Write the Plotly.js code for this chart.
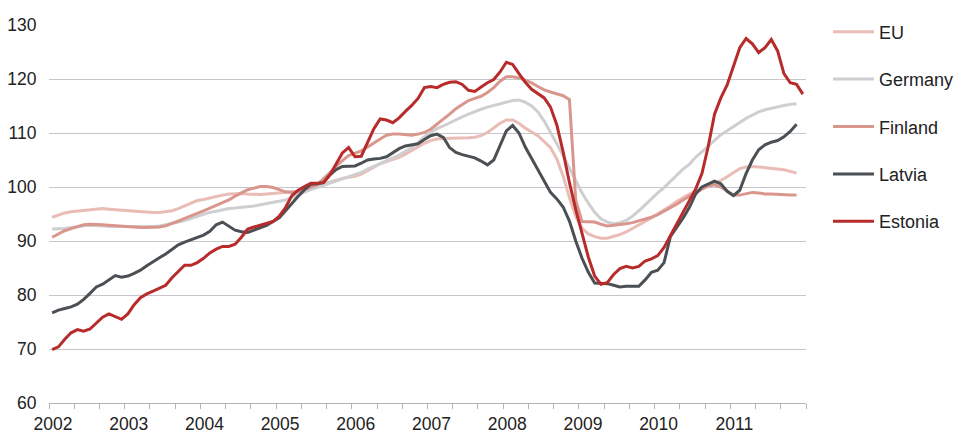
<!DOCTYPE html>
<html>
<head>
<meta charset="utf-8">
<script src="https://cdn.plot.ly/plotly-3.0.1.min.js"></script>
<style>html,body{margin:0;padding:0;background:#fff;}#chart{width:955px;height:435px;}</style>
</head>
<body>
<div id="chart"></div>
<script>
// Monthly index values, Jan 2002 - Dec 2011
const years = [2002, 2003, 2004, 2005, 2006, 2007, 2008, 2009, 2010, 2011];
const yearLabels = ["2002", "2003", "2004", "2005", "2006", "2007", "2008", "2009", "2010", "2011"];
const seriesNames = ["EU", "Germany", "Finland", "Latvia", "Estonia"];

const eu = [94.4,94.8,95.2,95.4,95.5,95.6,95.8,95.9,96.0,95.9,95.8,95.7,
95.6,95.5,95.5,95.4,95.3,95.3,95.4,95.6,96.0,96.5,97.0,97.5,
97.7,98.0,98.3,98.5,98.7,98.8,98.8,98.7,98.6,98.6,98.7,98.8,
98.9,99.0,99.0,99.2,99.5,99.9,100.3,100.6,100.9,101.3,101.6,101.8,
102.0,102.4,103.0,103.6,104.3,104.7,105.1,105.5,106.1,106.8,107.5,108.1,
108.6,108.9,109.0,109.0,109.0,109.0,109.1,109.2,109.5,110.1,110.9,111.8,
112.4,112.4,111.8,110.9,110.2,109.5,108.4,107.3,105.2,102.0,98.0,94.5,
92.4,91.3,90.8,90.5,90.5,90.8,91.2,91.7,92.3,92.9,93.6,94.3,
95.0,95.7,96.5,97.3,98.0,98.7,99.2,99.7,100.1,100.6,101.2,101.9,
102.7,103.4,103.7,103.8,103.7,103.6,103.5,103.4,103.2,102.9,102.6,null];

const germany = [92.2,92.2,92.3,92.5,92.7,92.8,92.9,92.9,92.8,92.7,92.7,92.6,
92.6,92.6,92.6,92.6,92.7,92.8,93.0,93.2,93.5,93.8,94.2,94.6,
95.0,95.3,95.5,95.8,96.0,96.1,96.2,96.4,96.5,96.7,96.9,97.1,
97.3,97.6,98.1,98.6,99.1,99.5,99.9,100.3,100.7,101.2,101.6,102.0,
102.3,102.7,103.3,103.8,104.4,104.8,105.3,105.9,106.6,107.3,108.2,109.3,
110.1,110.8,111.3,111.9,112.5,113.0,113.5,114.0,114.4,114.8,115.1,115.4,
115.7,116.0,116.1,115.7,115.0,113.9,112.2,110.2,108.0,105.8,103.5,101.1,
98.9,97.0,95.3,94.1,93.5,93.2,93.4,93.8,94.6,95.6,96.7,97.9,
98.9,99.9,101.0,102.1,103.3,104.2,105.5,106.5,107.6,108.7,109.7,110.4,
111.2,112.0,112.7,113.3,113.9,114.3,114.6,114.9,115.1,115.3,115.4,null];

const finland = [90.7,91.3,91.9,92.3,92.7,93.0,93.1,93.1,93.0,92.9,92.8,92.8,
92.6,92.5,92.5,92.5,92.5,92.6,92.8,93.2,93.7,94.2,94.6,95.1,
95.6,96.1,96.5,97.0,97.6,98.3,98.9,99.5,99.8,100.1,100.1,99.9,
99.5,99.1,99.0,99.2,99.5,100.0,100.4,101.5,102.6,103.7,104.9,105.8,
106.3,106.7,107.4,108.2,108.9,109.6,109.8,109.8,109.7,109.6,109.8,110.1,
110.7,111.6,112.6,113.5,114.5,115.3,116.0,116.4,116.8,117.5,118.4,119.6,
120.4,120.4,120.2,119.8,119.3,118.6,118.0,117.6,117.3,116.9,116.2,97.5,
93.6,93.6,93.5,93.1,92.8,92.9,93.0,93.2,93.4,93.7,94.0,94.4,
94.9,95.5,96.1,96.8,97.6,98.3,98.9,99.6,100.2,100.4,100.0,99.2,
98.5,98.5,98.8,99.0,98.9,98.7,98.7,98.6,98.6,98.5,98.5,null];

const latvia = [76.7,77.2,77.5,77.8,78.3,79.2,80.3,81.5,82.0,82.8,83.6,83.3,
83.5,84.0,84.6,85.4,86.2,86.9,87.6,88.5,89.3,89.8,90.2,90.6,
91.1,91.8,93.0,93.5,92.7,92.0,91.7,91.6,92.0,92.5,92.9,93.6,
94.3,95.6,97.0,98.3,99.5,100.5,100.6,100.8,102.2,103.2,103.8,103.9,
103.9,104.4,105.0,105.2,105.3,105.6,106.4,107.1,107.6,107.8,108.0,108.8,
109.5,109.8,109.2,107.3,106.4,106.0,105.7,105.4,104.8,104.1,105.0,107.8,
110.4,111.4,110.0,107.4,105.3,103.3,101.2,99.0,97.8,96.3,93.7,90.0,
86.8,84.2,82.2,82.1,82.1,81.8,81.5,81.6,81.6,81.6,82.8,84.2,
84.6,86.0,90.8,92.5,94.2,96.2,98.7,100.0,100.5,101.1,100.6,99.2,
98.4,99.4,102.5,105.0,106.9,107.8,108.3,108.6,109.3,110.3,111.6,null];

const estonia = [69.9,70.4,71.8,73.0,73.6,73.3,73.7,74.8,75.9,76.5,76.0,75.5,
76.5,78.2,79.5,80.2,80.7,81.2,81.8,83.2,84.4,85.5,85.5,86.0,
86.8,87.8,88.5,89.0,89.0,89.4,90.7,92.2,92.6,92.9,93.2,93.6,
94.6,96.2,98.4,99.4,100.1,100.7,100.7,100.8,102.2,104.2,106.3,107.3,
105.6,105.7,108.2,110.8,112.6,112.4,111.9,112.8,114.0,115.1,116.4,118.4,
118.6,118.4,119.0,119.4,119.5,119.0,117.9,117.7,118.5,119.3,119.9,121.3,
123.1,122.7,121.0,119.4,118.1,117.3,116.5,114.8,111.5,106.5,100.8,95.8,
91.3,87.0,83.5,82.0,82.3,83.8,84.9,85.3,85.0,85.3,86.3,86.7,
87.3,88.8,91.0,93.1,95.2,97.3,99.6,102.5,107.5,113.5,116.5,118.9,
122.3,125.8,127.5,126.5,124.9,125.8,127.3,125.2,121.0,119.3,119.0,117.2];

const colors = ["#e9bdb6", "#cfcfd2", "#d9968d", "#4b5055", "#b82b2b"];

// month midpoints as fractional years
const months = [];
years.forEach(y => { for (let m = 0; m < 12; m++) months.push(y + (m + 0.5) / 12); });

// ticks every four months, labels on the years
const tickvals = [], ticktext = [];
for (let k = 0; k <= 30; k++) {
  tickvals.push(2002 + k / 3);
  ticktext.push(k % 3 === 0 && k / 3 < yearLabels.length ? yearLabels[k / 3] : "");
}

const dataSets = [eu, germany, finland, latvia, estonia];
const traces = dataSets.map((vals, i) => ({
  type: "scatter",
  mode: "lines",
  x: months,
  y: vals,
  name: seriesNames[i],
  legendgroup: seriesNames[i],
  line: {color: colors[i], width: 3, shape: "linear"},
  connectgaps: false,
  hoverinfo: "x+y+name"
}));

const font = {family: "Liberation Sans, Arial, Helvetica, sans-serif", size: 17.5, color: "#222"};
const legendFont = {family: "Liberation Sans, Arial, Helvetica, sans-serif", size: 18, color: "#222"};

const layout = {
  width: 955, height: 435,
  margin: {l: 49, r: 149, t: 25, b: 32, autoexpand: false},
  paper_bgcolor: "#fff", plot_bgcolor: "#fff",
  font: font,
  showlegend: true,
  legend: {
    xref: "container", yref: "container",
    x: 0.867, xanchor: "left", y: 0.969, yanchor: "top",
    traceorder: "grouped", tracegroupgap: 21,
    maxheight: 420,
    itemwidth: 41, font: legendFont, bgcolor: "rgba(0,0,0,0)", borderwidth: 0
  },
  xaxis: {
    range: [2002, 2012],
    tickmode: "array", tickvals: tickvals, ticktext: ticktext,
    ticks: "outside", ticklen: 5, tickwidth: 1, tickcolor: "#b3b3b8",
    showline: true, linecolor: "#b3b3b8", linewidth: 1,
    showgrid: false, zeroline: false,
    ticklabelshift: 4,
    tickfont: font
  },
  yaxis: {
    range: [60, 130], tick0: 60, dtick: 10,
    showgrid: true, gridcolor: "#c6c6cb", gridwidth: 1,
    zeroline: false, showline: false,
    ticks: "outside", ticklen: 8, tickcolor: "rgba(0,0,0,0)",
    tickfont: font
  }
};

Plotly.newPlot("chart", traces, layout, {displayModeBar: false, staticPlot: true});
</script>
</body>
</html>
